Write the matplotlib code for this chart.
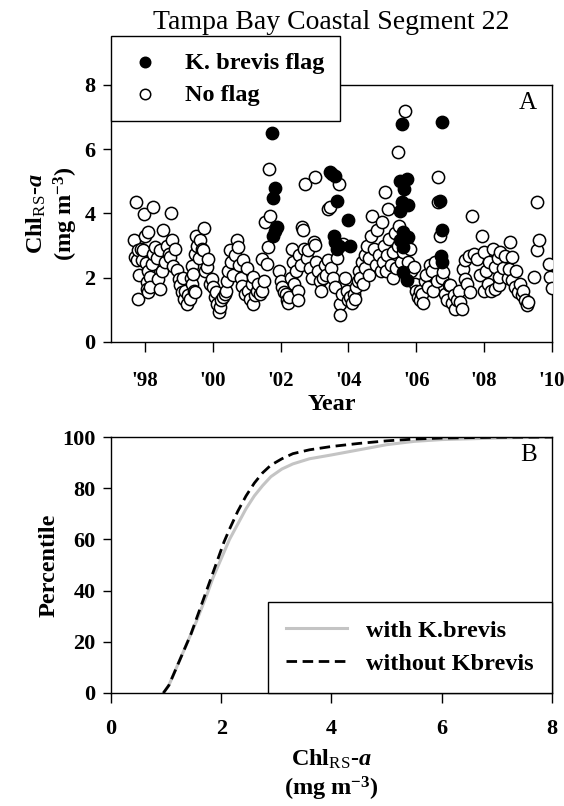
import numpy as np
import matplotlib.pyplot as plt

# fonts: Times-like serif, bold labels
plt.rcParams['font.family'] = 'Liberation Serif'
plt.rcParams['mathtext.fontset'] = 'custom'
plt.rcParams['mathtext.rm'] = 'Liberation Serif:bold'
plt.rcParams['mathtext.it'] = 'Liberation Serif:italic:bold'
plt.rcParams['mathtext.bf'] = 'Liberation Serif:bold'
plt.rcParams['mathtext.sf'] = 'Liberation Serif'

# Panel A - satellite Chl (no K. brevis flag), decimal year / mg m-3
open_year = [1997.68, 1997.71, 1997.74, 1997.76, 1997.80, 1997.80, 1997.84, 1997.88, 1997.90, 1997.95,
             1997.98, 1998.00, 1998.02, 1998.05, 1998.05, 1998.08,
             1998.10, 1998.10, 1998.15, 1998.15, 1998.20, 1998.23, 1998.25, 1998.30, 1998.35, 1998.40,
             1998.45, 1998.45, 1998.50, 1998.53, 1998.60, 1998.65, 1998.70, 1998.74, 1998.76, 1998.79,
             1998.84, 1998.89, 1998.94, 1998.99,
             1999.04, 1999.09, 1999.12, 1999.14, 1999.18, 1999.23, 1999.28, 1999.33, 1999.36, 1999.38,
             1999.38, 1999.43, 1999.45, 1999.48, 1999.48, 1999.50, 1999.53, 1999.58, 1999.63, 1999.68,
             1999.72, 1999.75, 1999.78, 1999.82, 1999.87, 1999.92, 1999.97,
             2000.02, 2000.07, 2000.10, 2000.12, 2000.17, 2000.20, 2000.25, 2000.30, 2000.35, 2000.40,
             2000.42, 2000.45, 2000.50, 2000.55, 2000.60, 2000.65, 2000.71, 2000.73, 2000.78, 2000.82,
             2000.86, 2000.90, 2000.95, 2001.00,
             2001.05, 2001.10, 2001.15, 2001.20, 2001.20, 2001.25, 2001.30, 2001.33, 2001.38, 2001.44,
             2001.44, 2001.50, 2001.54, 2001.59, 2001.64, 2001.67, 2001.69,
             2001.95, 2002.00, 2002.05, 2002.10, 2002.15, 2002.18, 2002.22, 2002.25, 2002.30, 2002.33,
             2002.38, 2002.40, 2002.45, 2002.50, 2002.52, 2002.55, 2002.60, 2002.62, 2002.67, 2002.70,
             2002.72, 2002.78, 2002.82, 2002.88, 2002.92, 2002.97, 2003.02, 2003.02,
             2003.05, 2003.10, 2003.15, 2003.20, 2003.25, 2003.30, 2003.35, 2003.41, 2003.41, 2003.46,
             2003.50, 2003.55, 2003.60, 2003.66, 2003.71, 2003.76, 2003.76, 2003.80, 2003.85, 2003.90,
             2003.95,
             2004.00, 2004.05, 2004.10, 2004.15, 2004.20, 2004.22, 2004.28, 2004.30, 2004.35, 2004.40,
             2004.42, 2004.48, 2004.50, 2004.55, 2004.60, 2004.62, 2004.65, 2004.69, 2004.75, 2004.80,
             2004.85, 2004.90, 2004.95, 2004.99,
             2005.02, 2005.05, 2005.08, 2005.10, 2005.15, 2005.18, 2005.20, 2005.25, 2005.30, 2005.32,
             2005.38, 2005.40, 2005.45, 2005.47, 2005.50, 2005.55, 2005.60, 2005.67, 2005.70, 2005.75,
             2005.80, 2005.85, 2005.92, 2005.95,
             2006.00, 2006.05, 2006.10, 2006.12, 2006.18, 2006.20, 2006.25, 2006.30, 2006.35, 2006.40,
             2006.45, 2006.50, 2006.55, 2006.60, 2006.65, 2006.65, 2006.70, 2006.75, 2006.80, 2006.85,
             2006.90, 2006.95,
             2007.00, 2007.05, 2007.10, 2007.15, 2007.20, 2007.25, 2007.30, 2007.35, 2007.39, 2007.44,
             2007.44, 2007.50, 2007.54, 2007.59, 2007.64, 2007.69, 2007.79, 2007.89, 2007.94, 2007.99,
             2007.99,
             2008.05, 2008.10, 2008.15, 2008.20, 2008.25, 2008.33, 2008.33, 2008.40, 2008.43, 2008.43,
             2008.47, 2008.55, 2008.62, 2008.70, 2008.72, 2008.77, 2008.82, 2008.82, 2008.92, 2008.95,
             2009.01, 2009.05, 2009.11, 2009.15, 2009.21, 2009.26, 2009.30, 2009.46, 2009.56, 2009.56,
             2009.61, 2009.90, 2009.95, 2010.00]
open_chl = [3.18, 2.64, 4.37, 2.55, 2.85, 1.35, 2.10, 2.90, 2.54, 2.85,
            3.99, 3.30, 2.45, 1.86, 1.66, 2.20,
            3.42, 1.55, 2.02, 1.71, 2.43, 4.21, 2.75, 2.95, 2.60, 1.97,
            2.85, 1.66, 2.20, 3.47, 2.50, 3.00, 2.75, 2.64, 4.01, 3.16,
            2.38, 2.90, 2.23, 1.97,
            1.76, 1.55, 2.00, 1.35, 1.60, 1.19, 1.45, 1.35, 2.00, 1.81,
            2.38, 2.12, 1.60, 1.55, 2.75, 3.30, 3.00, 2.60, 3.16, 2.90,
            2.85, 3.55, 2.20, 2.33, 2.59, 1.80, 1.97,
            1.71, 1.40, 1.55, 1.19, 0.93, 1.10, 1.30, 1.40, 1.50, 1.60,
            1.90, 2.20, 2.85, 2.50, 2.10, 2.70, 3.16, 2.95, 2.40, 2.00,
            1.75, 2.54, 1.50, 2.30,
            1.60, 1.35, 1.80, 1.19, 2.02, 1.45, 1.60, 1.81, 1.50, 1.60,
            2.59, 1.90, 3.73, 2.43, 2.95, 5.38, 3.93,
            2.20, 1.90, 1.70, 1.55, 1.50, 1.30, 1.20, 1.40, 2.00, 2.90,
            2.50, 1.80, 2.20, 1.60, 1.30, 2.70, 2.40, 3.57, 3.47, 2.90,
            4.92, 2.60, 2.85, 2.30, 2.00, 3.10, 5.12, 3.03,
            2.50, 2.20, 1.90, 1.60, 2.00, 2.40, 2.10, 4.14, 2.54, 4.19,
            2.30, 2.00, 1.70, 2.60, 4.92, 1.19, 0.83, 1.50, 3.06, 2.00,
            1.60,
            1.30, 1.40, 1.20, 1.50, 1.35, 1.70, 1.90, 2.20, 2.00, 2.50,
            1.80, 2.70, 2.30, 3.00, 2.60, 2.10, 3.30, 3.93, 2.90, 2.40,
            3.50, 2.70, 2.20, 3.73,
            2.50, 3.00, 4.66, 2.20, 2.70, 4.14, 3.20, 2.40, 2.00, 2.80,
            3.40, 2.30, 3.00, 5.90, 3.60, 2.50, 2.80, 7.20, 3.10, 2.50,
            2.90, 2.20, 2.33, 1.80,
            1.60, 1.40, 1.30, 1.60, 1.50, 1.20, 1.90, 2.10, 1.70, 2.40,
            2.20, 1.60, 2.50, 1.90, 5.12, 4.35, 3.31, 2.00, 2.17, 1.50,
            1.30, 1.76,
            1.76, 1.20, 1.45, 1.04, 1.30, 1.60, 1.24, 1.04, 2.28, 1.97,
            2.54, 1.80, 2.69, 1.55, 3.91, 2.75, 2.59, 2.07, 3.29, 2.80,
            1.60,
            2.20, 1.80, 2.50, 1.60, 2.90, 1.66, 2.33, 2.60, 1.76, 2.02,
            2.80, 2.30, 2.69, 2.00, 2.28, 3.10, 2.64, 1.92, 1.71, 2.20,
            1.55, 1.80, 1.45, 1.60, 1.30, 1.14, 1.25, 2.02, 4.35, 2.85,
            3.16, 2.43, 2.02, 1.68]

# K. brevis flagged points
kb_year = [2001.74, 2001.84, 2001.79, 2001.89, 2001.79, 2001.84,
           2003.46, 2003.51, 2003.61, 2003.66, 2003.56, 2003.61, 2003.66, 2003.72, 2004.00, 2004.05,
           2005.57, 2005.52, 2005.72, 2005.65, 2005.57, 2005.77, 2005.52, 2005.60, 2005.77, 2005.52,
           2005.62, 2005.62, 2005.72,
           2006.75, 2006.70, 2006.75, 2006.73, 2006.75]
kb_chl = [6.50, 4.80, 4.47, 3.57, 3.31, 3.45,
          5.28, 5.23, 5.17, 4.40, 3.31, 3.10, 2.90, 3.00, 3.80, 3.00,
          6.78, 5.02, 5.07, 4.76, 4.35, 4.25, 4.09, 3.42, 3.26, 3.16,
          2.95, 2.17, 1.92,
          6.86, 4.40, 3.47, 2.69, 2.48]

# Panel B - cumulative distributions (percentile vs Chl)
cdf_chl = [0.95, 1.05, 1.15, 1.25, 1.35, 1.45, 1.55, 1.65, 1.75, 1.85, 1.95, 2.05, 2.15, 2.30,
           2.45, 2.60, 2.75, 2.90, 3.10, 3.30, 3.60, 4.00, 4.50, 5.00, 5.50, 6.00, 7.00, 8.00]
pct_with = [0, 3, 8, 13, 18, 23, 28, 33.5, 39, 45, 50, 55, 60, 66,
            72, 77, 81, 84.5, 87.5, 89.5, 91.5, 93, 95, 97, 98.3, 99, 99.6, 100]
pct_without = [0, 3, 8, 13, 18, 23, 29, 35, 41, 47, 53, 59, 64, 71,
               77, 82, 86, 89, 91.5, 93.5, 95, 96.3, 97.5, 98.5, 99.2, 99.6, 99.9, 100]

year_ticks = [1998, 2000, 2002, 2004, 2006, 2008, 2010]
year_labels = ["'98", "'00", "'02", "'04", "'06", "'08", "'10"]

chl_label = 'Chl$_{\\mathsf{RS}}$-$\\mathit{a}$\n(mg m$^{\\mathbf{-3}}$)'

fig = plt.figure(figsize=(5.64, 8.06), dpi=100)
ax1 = fig.add_axes([0.1968, 0.5757, 0.7819, 0.3189])
ax2 = fig.add_axes([0.1968, 0.1402, 0.7819, 0.3176])

# --- panel A
p_open = ax1.scatter(open_year, open_chl, s=78, facecolors='white', edgecolors='black',
                     linewidths=1.1, zorder=3)
p_kb = ax1.scatter(kb_year, kb_chl, s=78, facecolors='black', edgecolors='black',
                   linewidths=1.1, zorder=4)
ax1.set_xlim(1997, 2010)
ax1.set_ylim(0, 8)
ax1.set_xticks(year_ticks)
ax1.set_xticklabels(year_labels)
ax1.set_yticks([0, 2, 4, 6, 8])
ax1.tick_params(axis='y', direction='out', length=6, width=1.0, labelsize=16, pad=5)
ax1.tick_params(axis='x', direction='out', length=7, width=1.0, labelsize=15, pad=14)
ax1.set_xlabel('Year', fontsize=17.5, fontweight='bold', labelpad=2)
ax1.set_ylabel(chl_label, fontsize=17.5, fontweight='bold', labelpad=3)
ax1.set_title('Tampa Bay Coastal Segment 22', fontsize=20, pad=40)
ax1.text(0.965, 0.93, 'A', transform=ax1.transAxes, fontsize=18, ha='right', va='center')
leg1 = ax1.legend([p_kb, p_open], ['K. brevis flag', 'No flag'], loc='upper left',
                  bbox_to_anchor=(0.1968, 0.9553), bbox_transform=fig.transFigure,
                  borderaxespad=0, fancybox=False, framealpha=1, edgecolor='black',
                  prop={'weight': 'bold', 'size': 17.5}, handletextpad=0.9,
                  borderpad=0.65, labelspacing=0.4, handlelength=1.5, markerscale=0.85)
leg1.get_frame().set_linewidth(1.0)
leg1.set_zorder(10)

# --- panel B
ax2.plot(cdf_chl, pct_with, color='#c4c4c4', lw=2.2, label='with K.brevis')
ax2.plot(cdf_chl, pct_without, color='black', lw=2.0, dashes=(3.8, 2.0), label='without Kbrevis')
ax2.set_xlim(0, 8)
ax2.set_ylim(0, 100)
ax2.set_xticks([0, 2, 4, 6, 8])
ax2.set_yticks([0, 20, 40, 60, 80, 100])
ax2.tick_params(axis='y', direction='out', length=6, width=1.0, labelsize=16, pad=5)
ax2.tick_params(axis='x', direction='out', length=7, width=1.0, labelsize=16, pad=12)
ax2.set_xlabel(chl_label, fontsize=17.5, fontweight='bold', labelpad=6)
ax2.set_ylabel('Percentile', fontsize=17.5, fontweight='bold', labelpad=2)
ax2.text(0.965, 0.93, 'B', transform=ax2.transAxes, fontsize=18, ha='right', va='center')
leg2 = ax2.legend(loc='lower right', borderaxespad=0, fancybox=False, framealpha=1,
                  edgecolor='black', prop={'weight': 'bold', 'size': 17.5},
                  handlelength=2.5, handletextpad=0.8, borderpad=0.75, labelspacing=0.45)
leg2.get_frame().set_linewidth(1.0)

for ax in (ax1, ax2):
    for sp in ax.spines.values():
        sp.set_linewidth(1.0)
    for lab in ax.get_xticklabels() + ax.get_yticklabels():
        lab.set_fontweight('bold')

fig.savefig('out.png', dpi=100)
